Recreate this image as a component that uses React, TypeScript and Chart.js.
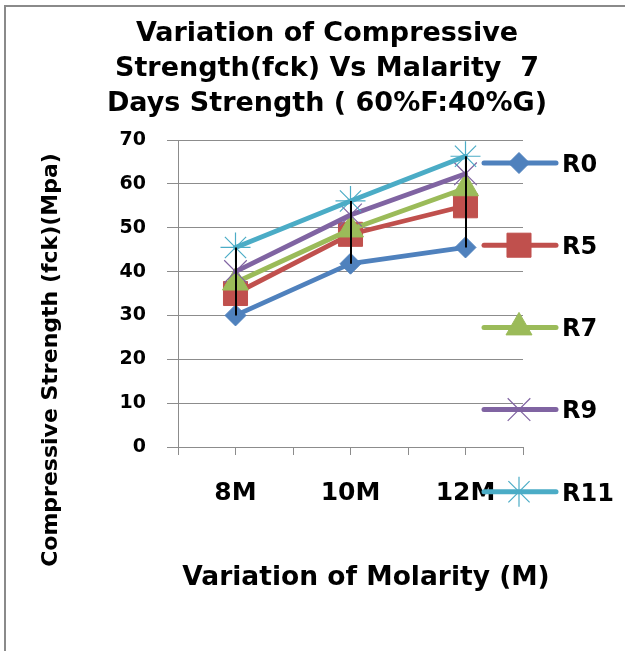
import React, { useEffect, useRef } from 'react';
import { Chart, registerables } from 'chart.js';
import { drawPoint } from 'chart.js/helpers';

Chart.register(...registerables);

// ---------- data ----------
const categories = ['8M', '10M', '12M'];
const seriesNames = ['R0', 'R5', 'R7', 'R9', 'R11'];
const r0 = [30, 41.8, 45.5];
const r5 = [35, 48.5, 55];
const r7 = [37.5, 49.6, 59];
const r9 = [40, 52.9, 62.3];
const r11 = [45.5, 56.1, 66.3];
const allSeries = [r0, r5, r7, r9, r11];
const titleLines = ['Variation of Compressive', 'Strength(fck) Vs Malarity  7', 'Days Strength ( 60%F:40%G)'];
const xTitle = 'Variation of Molarity (M)';
const yTitle = 'Compressive Strength (fck)(Mpa)';
const yMin = 0;
const yMax = 70;
const yStep = 10;

// ---------- style ----------
const FONT = '"DejaVu Sans", "Liberation Sans", sans-serif';
const GRID = '#8c8c8c';
const colors = ['#4F81BD', '#C0504D', '#9BBB59', '#8064A2', '#4BACC6'];
const pointStyles = ['rectRot', 'rect', 'triangle', 'crossRot', 'star'];
const pointRadii = [10.5, 17, 15, 16, 15];
const pointBorderWidths = [1, 1, 1, 1.2, 1.2];

const catX = (i: number) => 1 + 2 * i; // category i sits on every other tick

const decor = {
  id: 'decor',
  beforeDraw(chart: any) {
    const ctx = chart.ctx;
    ctx.save();
    ctx.fillStyle = '#ffffff';
    ctx.fillRect(0, 0, chart.width, chart.height);
    ctx.strokeStyle = '#8a8a8a';
    ctx.lineWidth = 2;
    ctx.beginPath();
    ctx.moveTo(5, chart.height + 10);
    ctx.lineTo(5, 6);
    ctx.lineTo(chart.width + 10, 6);
    ctx.stroke();
    ctx.restore();
  },
  afterDatasetsDraw(chart: any) {
    const ctx = chart.ctx;
    const xs = chart.scales.x;
    const ys = chart.scales.y;
    ctx.save();
    ctx.strokeStyle = '#000000';
    ctx.lineWidth = 2;
    categories.forEach((_, i) => {
      const vals = allSeries.map((s) => s[i]);
      const px = Math.round(xs.getPixelForValue(catX(i)));
      ctx.beginPath();
      ctx.moveTo(px, ys.getPixelForValue(Math.max(...vals)));
      ctx.lineTo(px, ys.getPixelForValue(Math.min(...vals)));
      ctx.stroke();
    });
    ctx.restore();
  },
  afterDraw(chart: any) {
    const ctx = chart.ctx;
    ctx.save();
    ctx.fillStyle = '#000000';
    // chart title
    ctx.font = `bold 27px ${FONT}`;
    ctx.textAlign = 'center';
    ctx.textBaseline = 'alphabetic';
    const titleBase = [40.5, 75.8, 111];
    titleLines.forEach((t, i) => ctx.fillText(t, 327, titleBase[i]));
    // x axis title
    ctx.font = `bold 26.5px ${FONT}`;
    ctx.fillText(xTitle, 366, 585);
    // y axis title
    ctx.save();
    ctx.translate(57, 360);
    ctx.rotate(-Math.PI / 2);
    ctx.font = `bold 22px ${FONT}`;
    ctx.fillText(yTitle, 0, 0);
    ctx.restore();
    // legend
    seriesNames.forEach((name, i) => {
      const y = 163 + i * 82.2;
      ctx.strokeStyle = colors[i];
      ctx.lineWidth = 5;
      ctx.lineCap = 'round';
      ctx.beginPath();
      ctx.moveTo(484, y);
      ctx.lineTo(556, y);
      ctx.stroke();
      ctx.fillStyle = colors[i];
      ctx.strokeStyle = colors[i];
      ctx.lineWidth = pointBorderWidths[i];
      ctx.lineCap = 'butt';
      drawPoint(ctx, { pointStyle: pointStyles[i], radius: pointRadii[i], rotation: 0, borderWidth: pointBorderWidths[i] } as any, 519, y);
      ctx.fillStyle = '#000000';
      ctx.font = `bold 24px ${FONT}`;
      ctx.textAlign = 'left';
      ctx.fillText(name, 562, y + 8.7);
    });
    ctx.restore();
  },
};

export default function App() {
  const ref = useRef<HTMLCanvasElement>(null);
  useEffect(() => {
    const datasets = allSeries.map((s, i) => ({
      label: seriesNames[i],
      data: s.map((v, j) => ({ x: catX(j), y: v })),
      borderColor: colors[i],
      backgroundColor: colors[i],
      borderWidth: 4.8,
      borderCapStyle: 'round' as const,
      borderJoinStyle: 'round' as const,
      tension: 0,
      pointStyle: pointStyles[i] as any,
      pointRadius: pointRadii[i],
      pointBackgroundColor: colors[i],
      pointBorderColor: colors[i],
      pointBorderWidth: pointBorderWidths[i],
      clip: false as any,
      order: allSeries.length - i,
    }));
    const chart = new Chart(ref.current!, {
      type: 'line',
      data: { datasets },
      options: {
        responsive: false,
        animation: false,
        layout: { padding: { top: 140, right: 102, left: 0, bottom: 0 } },
        plugins: {
          legend: { display: false },
          title: { display: false },
          tooltip: { enabled: false },
        },
        scales: {
          x: {
            type: 'linear',
            min: 0,
            max: 6,
            afterFit: (s: any) => {
              s.height = 204;
            },
            grid: { drawOnChartArea: false, drawTicks: true, tickLength: 8, color: GRID, lineWidth: 1 },
            border: { display: true, color: GRID, width: 1 },
            ticks: {
              stepSize: 1,
              autoSkip: false,
              maxRotation: 0,
              padding: 23,
              color: '#000000',
              font: { family: FONT, size: 25, weight: 'bold' },
              callback: (value: any) => {
                const i = (Number(value) - 1) / 2;
                return Number.isInteger(i) && categories[i] ? categories[i] : '';
              },
            },
          },
          y: {
            min: yMin,
            max: yMax,
            afterFit: (s: any) => {
              s.width = 178;
            },
            grid: { color: GRID, tickLength: 11, drawTicks: true, lineWidth: 1 },
            border: { display: true, color: GRID, width: 1 },
            ticks: {
              stepSize: yStep,
              padding: 21,
              color: '#000000',
              font: { family: FONT, size: 19, weight: 'bold' },
            },
          },
        },
      } as any,
      plugins: [decor],
    });
    return () => chart.destroy();
  }, []);
  return (
    <div style={{ position: 'absolute', left: 0, top: 0, width: 625, height: 651 }}>
      <canvas ref={ref} width={625} height={651} style={{ display: 'block' }} />
    </div>
  );
}
